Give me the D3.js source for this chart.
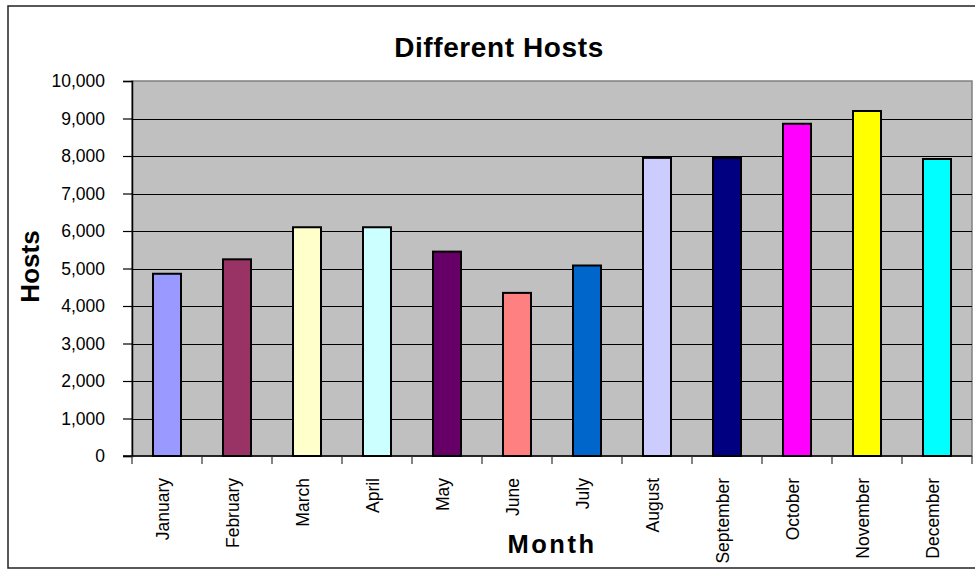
<!DOCTYPE html>
<html>
<head>
<meta charset="utf-8">
<script src="https://cdn.jsdelivr.net/npm/d3@7"></script>
<style>
  html, body { margin: 0; padding: 0; background: #fff; }
  svg { display: block; font-family: "Liberation Sans", Arial, sans-serif; }
</style>
</head>
<body>
<div id="chart"></div>
<script>
///// DATA /////
const months = ["January", "February", "March", "April", "May", "June",
  "July", "August", "September", "October", "November", "December"];
const hosts = [4860, 5245, 6100, 6100, 5450, 4350, 5080, 7950, 7950, 8860, 9200, 7920];
const barColors = ["#9999FF", "#993366", "#FFFFCC", "#CCFFFF", "#660066", "#FF8080",
  "#0066CC", "#CCCCFF", "#000080", "#FF00FF", "#FFFF00", "#00FFFF"];
const yTicks = [0, 1000, 2000, 3000, 4000, 5000, 6000, 7000, 8000, 9000, 10000];

///// CHART /////
const width = 975;
const height = 570;
const margin = { top: 81, right: 3, bottom: 114, left: 132 };

const svg = d3.select("#chart").append("svg")
  .attr("width", width)
  .attr("height", height);

// outer chart frame (right edge runs past the window)
svg.append("rect")
  .attr("x", 8).attr("y", 6)
  .attr("width", 1000).attr("height", 562)
  .attr("fill", "#fff")
  .attr("stroke", "#222")
  .attr("stroke-width", 1.5);

const x = d3.scaleBand()
  .domain(months)
  .range([margin.left, width - margin.right])
  .paddingInner(0.6)
  .paddingOuter(0.3);

const y = d3.scaleLinear()
  .domain([0, 10000])
  .range([height - margin.bottom, margin.top]);

// plot area
svg.append("rect")
  .attr("x", margin.left)
  .attr("y", y(10000))
  .attr("width", width - margin.right - margin.left)
  .attr("height", y(0) - y(10000))
  .attr("fill", "#C0C0C0")
  .attr("stroke", "#808080")
  .attr("stroke-width", 1.5);

// gridlines
svg.append("g")
  .selectAll("line")
  .data(yTicks.filter(d => d > 0 && d < 10000))
  .join("line")
  .attr("x1", margin.left)
  .attr("x2", width - margin.right)
  .attr("y1", d => Math.round(y(d)) + 0.5)
  .attr("y2", d => Math.round(y(d)) + 0.5)
  .attr("stroke", "#000")
  .attr("stroke-width", 1.2);

// y axis
const yAxis = svg.append("g")
  .attr("transform", `translate(${margin.left},0)`)
  .call(d3.axisLeft(y).tickValues(yTicks).tickSize(9).tickPadding(18)
    .tickFormat(d3.format(",")));
yAxis.select(".domain").attr("stroke", "#000").attr("stroke-width", 1.5);
yAxis.selectAll(".tick line").attr("stroke", "#000").attr("stroke-width", 1.2);
yAxis.selectAll(".tick text")
  .attr("font-family", "Liberation Sans, Arial, sans-serif")
  .attr("font-size", "17.5px")
  .attr("fill", "#000");

// bars
svg.append("g")
  .selectAll("rect")
  .data(months)
  .join("rect")
  .attr("x", d => x(d))
  .attr("y", (d, i) => y(hosts[i]))
  .attr("width", x.bandwidth())
  .attr("height", (d, i) => y(0) - y(hosts[i]))
  .attr("fill", (d, i) => barColors[i])
  .attr("stroke", "#000")
  .attr("stroke-width", 2);

// x axis line + ticks between categories
const step = x.step();
const xTickPos = d3.range(months.length + 1).map(i => margin.left + i * step);
svg.append("line")
  .attr("x1", margin.left - 9)
  .attr("x2", width - margin.right)
  .attr("y1", y(0)).attr("y2", y(0))
  .attr("stroke", "#000")
  .attr("stroke-width", 1.5);
svg.append("g")
  .selectAll("line")
  .data(xTickPos)
  .join("line")
  .attr("x1", d => d).attr("x2", d => d)
  .attr("y1", y(0)).attr("y2", y(0) + 8)
  .attr("stroke", "#333")
  .attr("stroke-width", 1.2);

// month labels, rotated
svg.append("g")
  .selectAll("text")
  .data(months)
  .join("text")
  .attr("transform", d => `translate(${x(d) + x.bandwidth() / 2 + 1.5},${y(0) + 22}) rotate(-90)`)
  .attr("text-anchor", "end")
  .attr("font-size", "17.5px")
  .attr("fill", "#000")
  .text(d => d);

// title
svg.append("text")
  .attr("x", 499)
  .attr("y", 57)
  .attr("text-anchor", "middle")
  .attr("font-size", "28px")
  .attr("font-weight", "bold")
  .attr("letter-spacing", "0.6px")
  .text("Different Hosts");

// axis titles
svg.append("text")
  .attr("x", (margin.left + width - margin.right) / 2)
  .attr("y", 553)
  .attr("text-anchor", "middle")
  .attr("font-size", "25.5px")
  .attr("font-weight", "bold")
  .attr("letter-spacing", "2.5px")
  .text("Month");

svg.append("text")
  .attr("transform", `translate(39,${(y(0) + y(10000)) / 2 - 2}) rotate(-90)`)
  .attr("text-anchor", "middle")
  .attr("font-size", "26px")
  .attr("font-weight", "bold")
  .text("Hosts");
</script>
</body>
</html>
